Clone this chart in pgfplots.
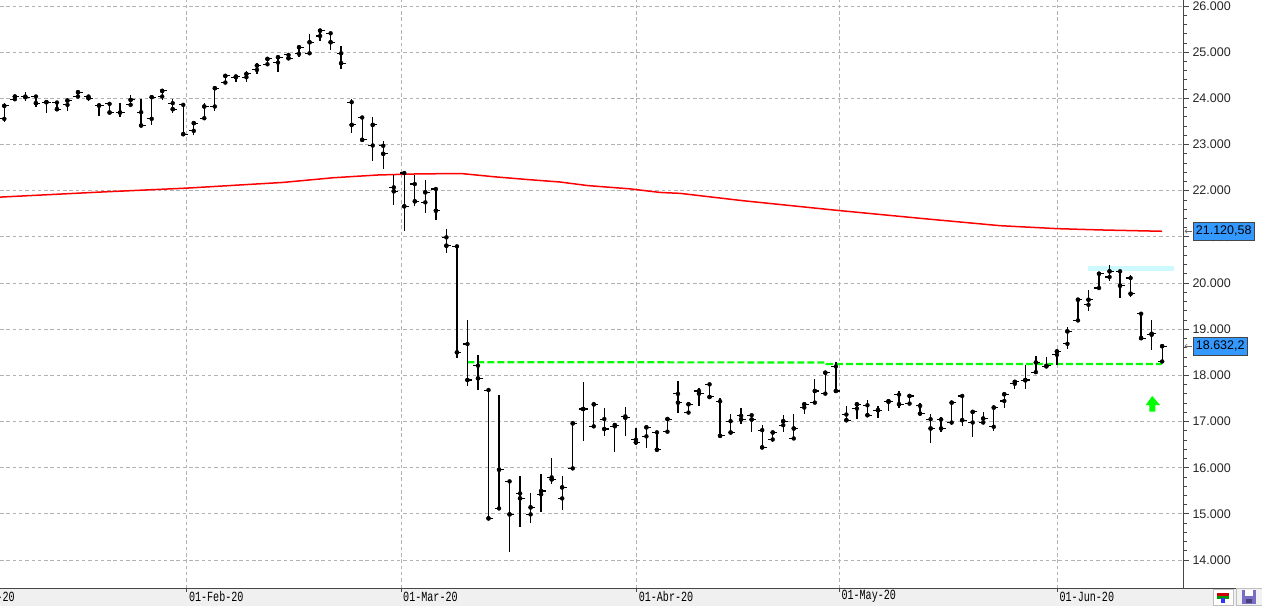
\documentclass[border=0pt]{standalone}
\usepackage{pgfplots}
\pgfplotsset{compat=1.18}
\usepackage{pgfplotstable}
\usepackage{fontspec}
\setmainfont{Liberation Sans}
\newfontfamily\datefont[FakeStretch=0.72]{Liberation Mono}
\usetikzlibrary{arrows.meta}

\definecolor{gridgray}{RGB}{178,178,178}
\definecolor{boxblue}{RGB}{51,153,255}
\definecolor{bandgray}{RGB}{240,240,240}
\definecolor{axisgray}{RGB}{70,70,70}
\definecolor{cyanband}{RGB}{204,250,255}
\definecolor{floppy}{RGB}{120,110,200}

\pgfplotstableread{
i o h l c
0 23556 23895 23477 23837
1 23981 24075 23952 24039
2 24039 24133 23952 24024
3 24039 24053 23823 23895
4 23916 23931 23693 23916
5 23909 23909 23729 23765
6 23859 23967 23736 23952
7 24039 24161 24003 24133
8 24039 24075 23952 24003
9 23844 23859 23628 23844
10 23880 23895 23693 23693
11 23693 23895 23606 23693
12 23859 24075 23859 23967
13 23700 23981 23375 23412
14 23556 24024 23412 24024
15 24039 24197 23967 24161
16 23895 23988 23678 23765
17 23859 23873 23210 23224
18 23296 23462 23203 23462
19 23570 23895 23534 23823
20 23823 24269 23736 24219
21 24342 24486 24342 24486
22 24457 24508 24363 24471
23 24457 24587 24363 24529
24 24616 24760 24522 24709
25 24738 24890 24724 24854
26 24774 24890 24580 24890
27 24940 24991 24832 24868
28 24962 25106 24890 25106
29 24976 25387 24962 25214
30 25351 25481 25250 25466
31 25409 25409 25048 25214
32 24976 25135 24645 24760
33 23916 23996 23246 23426
34 23585 23606 23044 23102
35 22979 23592 22633 23426
36 22972 23073 22467 22799
37 22072 22339 21697 21986
38 22383 22383 21134 21661
39 22144 22339 21661 21769
40 21747 22231 21509 21964
41 22036 22051 21372 21567
42 20989 21170 20643 20809
43 20794 20794 18368 18498
44 18679 19199 17776 17899
45 18210 18440 17690 17935
46 17682 17682 14903 14903
47 15119 17574 15119 15957
48 15704 15704 14166 14989
49 15444 15812 14708 15336
50 14989 15451 14795 15141
51 15423 15863 15047 15495
52 15791 16210 15639 15747
53 15336 15812 15090 15574
54 15986 16960 15986 16960
55 17271 17849 16585 17271
56 16896 17372 16852 17372
57 17054 17285 16679 16838
58 16896 16924 16332 16924
59 17112 17307 16693 17083
60 16607 16852 16491 16549
61 16679 16896 16419 16874
62 16766 16802 16390 16390
63 16780 17069 16780 17054
64 17600 17885 17180 17410
65 17195 17389 17173 17374
66 17662 17734 17339 17605
67 17806 17820 17497 17533
68 17439 17511 16691 16691
69 17008 17159 16720 16763
70 17123 17303 16957 17044
71 17137 17159 16778 17044
72 16814 16921 16440 16440
73 16612 16763 16548 16763
74 16921 17137 16763 17008
75 16634 17159 16634 16850
76 17303 17374 17159 17374
77 17410 17928 17403 17662
78 17605 18058 17605 18058
79 18194 18288 17641 17662
80 17152 17331 17015 17029
81 17281 17374 17051 17374
82 17353 17475 17123 17137
83 17245 17339 17080 17245
84 17425 17446 17231 17439
85 17583 17662 17303 17374
86 17389 17569 17389 17554
87 17339 17410 17173 17173
88 17051 17173 16540 16850
89 17044 17101 16778 16850
90 16979 17425 16921 17410
91 17554 17605 16907 17029
92 16979 17224 16655 17209
93 16979 17209 16943 17065
94 16886 17353 16799 17303
95 17445 17600 17289 17590
96 17820 17880 17700 17860
97 17890 18224 17698 17900
98 18070 18409 18070 18279
99 18193 18395 18156 18207
100 18445 18532 18214 18518
101 18684 19046 18568 18952
102 19190 19639 19190 19639
103 19530 19855 19385 19639
104 19892 20217 19870 20202
105 20130 20398 20036 20253
106 20253 20289 19675 19942
107 20108 20181 19696 19769
108 19335 19349 18807 18807
109 18879 19190 18554 18901
110 18301 18632 18301 18632
}\ohlc

\tikzset{datelab/.style={anchor=west, inner sep=0pt, font=\datefont\fontsize{14bp}{15bp}\selectfont, text=black},
  valbox/.style={anchor=west, fill=boxblue, draw=axisgray, line width=0.8bp, inner xsep=2.5bp, minimum height=18bp,
        font=\fontsize{12.5bp}{14bp}\selectfont, text=black},
  valarrow/.style={-{Straight Barb[length=2.2bp,width=4bp]}, black!60, line width=0.6bp}}

\begin{document}
\begin{tikzpicture}
\begin{axis}[
  width=1183bp, height=588bp, scale only axis,
  xmin=-0.4085, xmax=111.98, ymin=13395, ymax=26130,
  axis x line=bottom, axis y line=right,
  axis line style={-, axisgray, line width=0.9bp},
  xtick={17.34,37.69,60.07,79.33,100.05}, xticklabels={},
  xtick style={draw=none},
  ytick={14000,15000,...,26000}, minor y tick num=4,
  tick align=outside, major tick length=6bp, minor tick length=4bp,
  every tick/.style={axisgray, line width=0.8bp},
  xmajorgrids, ymajorgrids,
  grid style={gridgray, dash pattern=on 3.5bp off 2.8bp, line width=0.9bp},
  scaled y ticks=false,
  yticklabel style={font=\fontsize{12.5bp}{14bp}\selectfont, text=black!85, anchor=west,
    /pgf/number format/.cd, 1000 sep={.}, assume math mode=true},
  clip=false,
]
% resistance band
\addplot[cyanband, line width=5bp, forget plot] coordinates {(102.95,20310) (111.1,20310)};
% moving average
\addplot[red, line width=1.5bp, forget plot] coordinates {
(-0.41,21861) (9.09,21970) (17.36,22056) (26.48,22179) (31.23,22280) (35.5,22340)
(39.5,22365) (43.48,22370) (46.6,22300) (49.9,22238) (52.8,22188) (55.45,22110)
(59.44,22040) (62.3,21962) (64.2,21942) (70.18,21783) (79.08,21575) (87.0,21402)
(94.6,21242) (100.0,21178) (104.1,21150) (110.0,21121)};
% support
\addplot[green, line width=2.2bp, dash pattern=on 7bp off 3bp, forget plot] coordinates {
(44,18285) (78.1,18280) (78.1,18246) (110,18246)};
% arrow
\addplot[fill=green, draw=none, forget plot] coordinates {
(109.06,17553) (108.44,17358) (108.78,17358) (108.78,17213) (109.35,17213) (109.35,17358) (109.80,17358) (109.06,17553)} -- cycle;
% OHLC high-low
\addplot[black, only marks, mark=none, forget plot,
  error bars/.cd, y dir=both, y explicit, error mark=none,
  error bar style={line width=1.3bp, black}]
  table[x=i, y=c, y error plus expr=\thisrow{h}-\thisrow{c}, y error minus expr=\thisrow{c}-\thisrow{l}] {\ohlc};
% open ticks
\addplot[black, only marks, mark=none, forget plot,
  error bars/.cd, x dir=minus, x fixed=0.43, error mark=none,
  error bar style={line width=1.1bp, black}]
  table[x=i, y=o] {\ohlc};
% close ticks
\addplot[black, only marks, mark=none, forget plot,
  error bars/.cd, x dir=plus, x fixed=0.43, error mark=none,
  error bar style={line width=1.1bp, black}]
  table[x=i, y=c] {\ohlc};

\coordinate (SW) at (rel axis cs:0,0);
\coordinate (NE) at (rel axis cs:1,1);
\coordinate (b1) at (axis cs:111.98,21120.58);
\coordinate (b2) at (axis cs:111.98,18632.2);
\coordinate (ta) at (axis cs:17.34,13395);
\coordinate (tb) at (axis cs:37.69,13395);
\coordinate (tc) at (axis cs:60.07,13395);
\coordinate (td) at (axis cs:79.33,13395);
\coordinate (te) at (axis cs:100.05,13395);
\end{axis}
\fill[bandgray] ([yshift=-18bp]SW) rectangle ([xshift=1262bp]SW);
\draw[axisgray, line width=0.9bp] (SW) -- ([xshift=1262bp]SW);
\draw[axisgray, line width=0.8bp] (ta) -- ++(0,-4bp) (tb) -- ++(0,-4bp) (tc) -- ++(0,-4bp) (td) -- ++(0,-4bp) (te) -- ++(0,-4bp);
\node[datelab] at ([xshift=2bp,yshift=-8.5bp]ta) {01-Feb-20};
\node[datelab] at ([xshift=2bp,yshift=-8.5bp]tb) {01-Mar-20};
\node[datelab] at ([xshift=2bp,yshift=-8.5bp]tc) {01-Abr-20};
\node[datelab] at ([xshift=2bp,yshift=-8.5bp]td) {01-May-20};
\node[datelab] at ([xshift=2bp,yshift=-8.5bp]te) {01-Jun-20};
\node[datelab, anchor=east] at ([xshift=15bp,yshift=-8.5bp]SW) {01-Ene-20};
% value boxes
\draw[valarrow] ([xshift=9bp]b1) -- ([xshift=1.5bp]b1);
\node[valbox] at ([xshift=10bp]b1) {21.120,58};
\draw[valarrow] ([xshift=9bp]b2) -- ([xshift=1.5bp]b2);
\node[valbox] at ([xshift=10bp]b2) {18.632,2};
% toolbar icons
\begin{scope}[shift={([yshift=-18bp]SW)}, x=1bp, y=1bp]
\draw[black!25, fill=white] (1213,1) rectangle (1233,17);
\fill[red!80!black] (1217,10) rectangle (1229,13);
\fill[green!60!black] (1217,7) rectangle (1229,10);
\fill[blue!80] (1221,3) rectangle (1225,8);
\draw[black!25, fill=black!5] (1236,0.5) rectangle (1262,17.5);
\fill[floppy] (1242,2) rectangle (1256,16);
\fill[white] (1245,10) rectangle (1253,16);
\fill[floppy!60!black] (1246,3) rectangle (1252,7);
\end{scope}
\pgfresetboundingbox
\path[use as bounding box] ([yshift=-18bp]SW) rectangle ([xshift=79bp]NE);
\end{tikzpicture}
\end{document}
